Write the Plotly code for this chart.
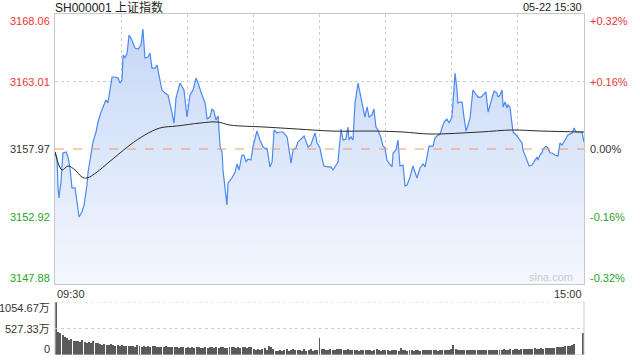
import plotly.graph_objects as go

# ---------------- data ----------------
prev_close = 3157.97
title_text = "SH000001 上证指数"
date_text = "05-22 15:30"

# minute offset from 09:30 (0..240, lunch break collapsed) and index level
price_min = [0, 0.9, 1.4, 1.8, 2.7, 3.6, 5.0, 5.9, 6.8, 7.7, 9.1, 10.0, 10.9, 12.2, 13.2, 14.5, 15.0,
             16.3, 17.2, 18.6, 19.5, 20.9, 21.8, 23.1, 24.0, 25.0, 25.9, 27.2, 28.6, 29.5, 30.4, 30.9,
             31.8, 32.7, 33.6, 34.9, 36.3, 37.7, 39.0, 39.9, 40.8, 42.2, 43.1, 44.0, 45.4, 46.3, 47.6,
             48.5, 49.9, 51.3, 53.1, 54.0, 54.9, 56.7, 58.5, 59.9, 61.2, 62.6, 64.0, 64.9, 66.7, 68.1,
             69.0, 70.3, 71.2, 72.1, 73.0, 74.0, 74.9, 75.8, 76.2, 77.1, 78.0, 78.5, 80.3, 81.7, 82.6,
             83.5, 84.8, 85.7, 86.7, 87.6, 88.9, 89.8, 91.6, 93.0, 94.4, 95.7, 96.2, 97.5, 98.5, 99.4,
             100.7, 102.1, 103.4, 105.3, 106.2, 107.1, 108.0, 109.3, 110.2, 112.1, 113.0, 114.8, 116.1,
             117.1, 118.0, 118.9, 120.2, 121.1, 122.0, 123.9, 125.2, 126.1, 127.5, 128.4, 128.9, 129.8,
             130.7, 132.0, 132.9, 133.4, 134.3, 135.2, 136.1, 137.0, 137.5, 138.4, 139.3, 140.6, 141.6,
             142.5, 143.8, 144.7, 145.6, 146.5, 147.9, 148.8, 149.7, 150.6, 151.5, 152.9, 153.4, 154.7,
             155.6, 156.5, 157.9, 158.8, 159.7, 161.1, 162.4, 163.3, 164.2, 165.6, 167.0, 167.9, 168.8,
             169.7, 171.5, 172.4, 173.3, 174.7, 175.6, 176.5, 177.8, 178.8, 180.1, 180.6, 181.0, 181.5,
             182.4, 182.8, 183.7, 184.7, 185.6, 186.5, 187.4, 188.3, 189.6, 191.0, 191.9, 193.3, 194.2,
             195.5, 196.5, 197.4, 198.3, 199.2, 200.5, 201.0, 201.9, 202.8, 203.3, 204.2, 205.1, 205.5,
             206.4, 207.3, 207.8, 209.2, 210.1, 211.0, 211.9, 212.3, 213.2, 214.1, 215.1, 216.4, 217.3,
             218.7, 219.1, 220.0, 220.9, 221.4, 222.8, 223.7, 224.6, 225.5, 226.8, 228.2, 229.1, 230.0,
             231.4, 232.7, 234.6, 235.5, 236.4, 237.7, 239.1, 240.0]
price_val = [3157.75, 3157.30, 3155.06, 3154.31, 3155.50, 3157.67, 3157.75, 3157.37, 3156.55, 3155.06,
             3155.06, 3153.79, 3152.89, 3153.26, 3153.79, 3155.28, 3156.25, 3157.52, 3158.49, 3159.24,
             3159.99, 3160.73, 3161.11, 3161.63, 3161.41, 3162.60, 3163.35, 3163.35, 3163.27, 3162.90,
             3163.12, 3164.99, 3164.77, 3165.14, 3166.49, 3166.11, 3165.51, 3165.44, 3165.74, 3166.93,
             3164.77, 3164.84, 3165.14, 3164.02, 3164.02, 3164.24, 3162.97, 3162.38, 3162.15, 3162.00,
             3160.66, 3159.91, 3161.78, 3162.90, 3162.38, 3160.36, 3162.00, 3162.38, 3163.27, 3162.90,
             3162.00, 3161.41, 3160.21, 3160.36, 3160.96, 3160.81, 3160.14, 3160.44, 3158.12, 3157.75,
             3156.40, 3154.91, 3153.79, 3155.43, 3155.80, 3156.25, 3156.85, 3156.40, 3157.52, 3157.52,
             3157.00, 3157.22, 3157.15, 3158.12, 3159.31, 3158.64, 3158.12, 3157.97, 3158.04, 3156.63,
             3157.00, 3159.39, 3159.17, 3159.24, 3159.24, 3158.87, 3157.90, 3156.92, 3157.90, 3158.04,
             3158.49, 3158.79, 3158.94, 3158.12, 3158.27, 3158.79, 3159.17, 3158.42, 3158.04, 3157.30,
             3156.70, 3156.63, 3156.63, 3156.40, 3156.77, 3157.00, 3157.97, 3159.46, 3158.64, 3158.72,
             3159.61, 3158.64, 3158.87, 3158.64, 3161.41, 3162.38, 3162.90, 3162.15, 3161.48, 3160.36,
             3161.11, 3160.36, 3160.51, 3160.96, 3159.61, 3159.39, 3158.79, 3158.19, 3158.04, 3157.15,
             3156.92, 3156.63, 3157.67, 3157.90, 3158.64, 3156.70, 3156.77, 3155.21, 3155.28, 3155.88,
             3156.70, 3156.18, 3155.80, 3156.55, 3156.85, 3156.63, 3157.37, 3158.19, 3158.19, 3158.79,
             3158.94, 3159.09, 3159.54, 3159.99, 3160.21, 3159.91, 3160.36, 3161.41, 3162.15, 3163.65,
             3162.38, 3161.41, 3161.48, 3161.48, 3160.29, 3159.31, 3159.76, 3160.29, 3162.38, 3162.00,
             3161.85, 3161.85, 3162.00, 3162.23, 3160.73, 3161.26, 3161.85, 3162.30, 3162.15, 3161.85,
             3162.00, 3162.38, 3161.11, 3161.48, 3161.03, 3161.26, 3161.11, 3159.99, 3159.24, 3159.02,
             3158.79, 3158.64, 3158.42, 3157.90, 3157.52, 3157.00, 3156.70, 3156.77, 3157.00, 3157.37,
             3157.15, 3157.52, 3157.67, 3157.97, 3158.19, 3158.04, 3157.67, 3157.67, 3157.52, 3157.45,
             3158.42, 3158.27, 3158.64, 3159.02, 3159.17, 3159.54, 3159.24, 3159.24, 3159.24, 3158.49]

# average-price line
avg_min = [0, 3.2, 5.9, 9.1, 12.2, 14.5, 19.1, 24.0, 29.5, 34.0, 40.8, 47.6, 55.4, 65.8, 73.5, 79.4,
           95.3, 110.2, 125.7, 145.2, 157.9, 170.1, 192.8, 207.3, 220.9, 240.0]
avg_val = [3157.75, 3156.40, 3156.70, 3156.40, 3155.88, 3155.80, 3156.25, 3156.92, 3157.67, 3158.27,
           3159.02, 3159.54, 3159.69, 3159.91, 3159.99, 3159.76, 3159.61, 3159.46, 3159.31, 3159.31,
           3159.24, 3159.09, 3159.24, 3159.39, 3159.31, 3159.24]

# per-minute volume, 万 (241 bars)
volume = [1054.67, 465, 440, 390, 360, 330, 300, 310, 285, 270,
          280, 255, 300, 250, 240, 265, 230, 280, 245, 230,
          215, 205, 225, 200, 195, 210, 190, 185, 200, 180,
          190, 175, 185, 170, 180, 175, 165, 190, 170, 160,
          175, 165, 170, 160, 185, 170, 160, 165, 150, 160,
          175, 160, 150, 155, 165, 150, 145, 160, 150, 140,
          150, 145, 155, 140, 150, 160, 145, 140, 150, 145,
          160, 150, 140, 155, 145, 150, 160, 140, 135, 150,
          155, 165, 145, 150, 140, 160, 150, 145, 155, 165,
          110, 105, 120, 100, 115, 140, 95, 170, 165, 110,
          85, 80, 90, 85, 95, 110, 80, 100, 120, 95,
          90, 105, 85, 110, 80, 95, 120, 85, 90, 100,
          330,
          120, 110, 95, 100, 115, 90, 105, 125, 120, 110,
          95, 100, 115, 105, 90, 100, 95, 85, 100, 95,
          90, 95, 100, 85, 90, 110, 95, 85, 100, 90,
          95, 85, 90, 95, 100, 85, 140, 90, 95, 85,
          90, 95, 85, 90, 100, 85, 90, 95, 105, 90,
          95, 100, 90, 85, 95, 100, 105, 95, 90, 110,
          195, 120, 95, 100, 90, 95, 100, 105, 90, 95,
          100, 95, 105, 90, 100, 95, 90, 100, 105, 95,
          100, 105, 95, 110, 100, 105, 115, 100, 110, 120,
          105, 115, 120, 110, 125, 115, 120, 130, 125, 120,
          135, 125, 130, 140, 135, 145, 140, 150, 155, 160,
          165, 175, 170, 185, 200, 210,
          0, 0, 0,
          430]
vol_minutes = list(range(len(volume)))

price_ticks = [3168.06, 3163.01, 3157.97, 3152.92, 3147.88]
pct_labels = ["+0.32%", "+0.16%", "0.00%", "-0.16%", "-0.32%"]
vol_ticks = [1054.67, 527.33, 0]
vol_labels = ["1054.67万", "527.33万", "0"]
time_labels = ["09:30", "15:00"]
grid_minutes = [30, 60, 90, 120, 150, 180, 210]

# ---------------- style ----------------
RED = "#ee3333"
GREEN = "#1fa51f"
DARK = "#333333"
BORDER = "#c8c8c8"
GRID = "#cfcfcf"
FONT = "Liberation Sans, Arial, Noto Sans CJK SC, sans-serif"
price_lo, price_hi = price_ticks[-1], price_ticks[0]

H = 360
top, price_bottom, vol_top, vol_bottom = 14, 284, 302, 355
plot_h = vol_bottom - top
price_dom = [(vol_bottom - price_bottom) / plot_h, 1.0]
vol_dom = [0.0, (vol_bottom - vol_top) / plot_h]

fig = go.Figure()

fig.add_trace(go.Scatter(x=[price_min[0], price_min[-1]], y=[price_lo, price_lo], mode="lines",
                         line=dict(width=0), hoverinfo="skip", showlegend=False))
fig.add_trace(go.Scatter(
    x=price_min, y=price_val, mode="lines", fill="tonexty",
    fillgradient=dict(type="vertical", start=price_lo, stop=3166.9,
                      colorscale=[[0, "rgb(244,247,254)"], [1, "rgb(198,216,247)"]]),
    line=dict(color="#4a89f0", width=1.2), showlegend=False))
fig.add_trace(go.Scatter(x=avg_min, y=avg_val, mode="lines",
                         line=dict(color="#2a2a2a", width=1, shape="spline", smoothing=1.0),
                         showlegend=False))
fig.add_trace(go.Bar(x=vol_minutes, y=volume, xaxis="x2", yaxis="y2", width=0.45,
                     marker=dict(color="#5a5a5a", line=dict(width=0)), showlegend=False))

fig.update_layout(
    width=640, height=H,
    margin=dict(l=55, r=56, t=top, b=H - vol_bottom),
    plot_bgcolor="white", paper_bgcolor="white",
    xaxis=dict(domain=[0, 1], range=[0, 240], anchor="y", tickvals=grid_minutes,
               showticklabels=False, ticks="", showgrid=True, gridcolor=GRID, griddash="dot",
               gridwidth=1, showline=True, mirror=True, linecolor=BORDER, linewidth=1,
               zeroline=False),
    yaxis=dict(domain=price_dom, range=[price_lo, price_hi], tickvals=[price_ticks[1], price_ticks[3]],
               showticklabels=False, ticks="", showgrid=True, gridcolor=GRID, griddash="dot",
               gridwidth=1, showline=True, mirror=True, linecolor=BORDER, linewidth=1,
               zeroline=False),
    xaxis2=dict(domain=[0, 1], range=[-0.5, 240.5], anchor="y2", showticklabels=False,
                showgrid=False, zeroline=False, showline=False, ticks=""),
    yaxis2=dict(domain=vol_dom, range=[0, vol_ticks[0]], showticklabels=False, showgrid=False,
                zeroline=False, showline=False, ticks=""),
    bargap=0,
    font=dict(family=FONT, size=11, color=DARK),
)

shapes = [
    dict(type="line", xref="x", yref="y", x0=0, x1=240, y0=prev_close, y1=prev_close,
         line=dict(color="rgb(240,150,105)", width=1, dash="dash")),
    # volume panel frame
    dict(type="line", xref="paper", yref="y2", x0=0, x1=1, y0=vol_ticks[0], y1=vol_ticks[0],
         line=dict(color=GRID, width=1, dash="dot")),
    dict(type="line", xref="paper", yref="y2", x0=0, x1=1, y0=vol_ticks[1], y1=vol_ticks[1],
         line=dict(color=GRID, width=1, dash="dot")),
    dict(type="line", xref="paper", yref="y2", x0=0, x1=1, y0=0, y1=0,
         line=dict(color=BORDER, width=1)),
    dict(type="line", xref="paper", yref="y2", x0=0, x1=0, y0=0, y1=vol_ticks[0],
         line=dict(color=BORDER, width=1)),
    dict(type="line", xref="paper", yref="y2", x0=1, x1=1, y0=0, y1=vol_ticks[0],
         line=dict(color=BORDER, width=1)),
]
fig.update_layout(shapes=shapes)

ann = []
ann.append(dict(text=title_text, xref="paper", yref="paper", x=0, y=1, xanchor="left",
                yanchor="middle", yshift=7, xshift=-2, showarrow=False,
                font=dict(size=12, color="#222222", family=FONT)))
ann.append(dict(text=date_text, xref="paper", yref="paper", x=1, y=1, xanchor="right",
                yanchor="middle", yshift=7, showarrow=False, font=dict(size=11, color="#222222")))

price_colors = [RED, RED, DARK, GREEN, GREEN]
shifts = [-6.5, 0, 0, 0, 6.5]
for v, lab, c, s in zip(price_ticks, pct_labels, price_colors, shifts):
    ann.append(dict(text=f"{v:.2f}", xref="paper", yref="y", x=0, y=v, xanchor="right",
                    yanchor="middle", xshift=-3, yshift=s, showarrow=False, font=dict(color=c)))
    ann.append(dict(text=lab, xref="paper", yref="y", x=1, y=v, xanchor="left",
                    yanchor="middle", xshift=4, yshift=s, showarrow=False, font=dict(color=c)))

vshifts = [-6, 0, 6]
for v, lab, s in zip(vol_ticks, vol_labels, vshifts):
    ann.append(dict(text=lab, xref="paper", yref="y2", x=0, y=v, xanchor="right",
                    yanchor="middle", xshift=-3, yshift=s, showarrow=False,
                    font=dict(color=DARK)))

ann.append(dict(text=time_labels[0], xref="paper", yref="y", x=0, y=price_lo, xanchor="left",
                yanchor="top", yshift=-2, showarrow=False, font=dict(color=DARK)))
ann.append(dict(text=time_labels[1], xref="paper", yref="y", x=1, y=price_lo, xanchor="right",
                yanchor="top", yshift=-2, showarrow=False, font=dict(color=DARK)))
ann.append(dict(text="sina.com", xref="paper", yref="y", x=1, y=price_lo, xanchor="right",
                yanchor="bottom", xshift=-9, yshift=-1, showarrow=False,
                font=dict(color="#cccccc", size=11)))
fig.update_layout(annotations=ann)

fig.write_html("out.html", config={"displayModeBar": False},
               post_script="document.body.style.margin='0';document.body.style.overflow='hidden';")
